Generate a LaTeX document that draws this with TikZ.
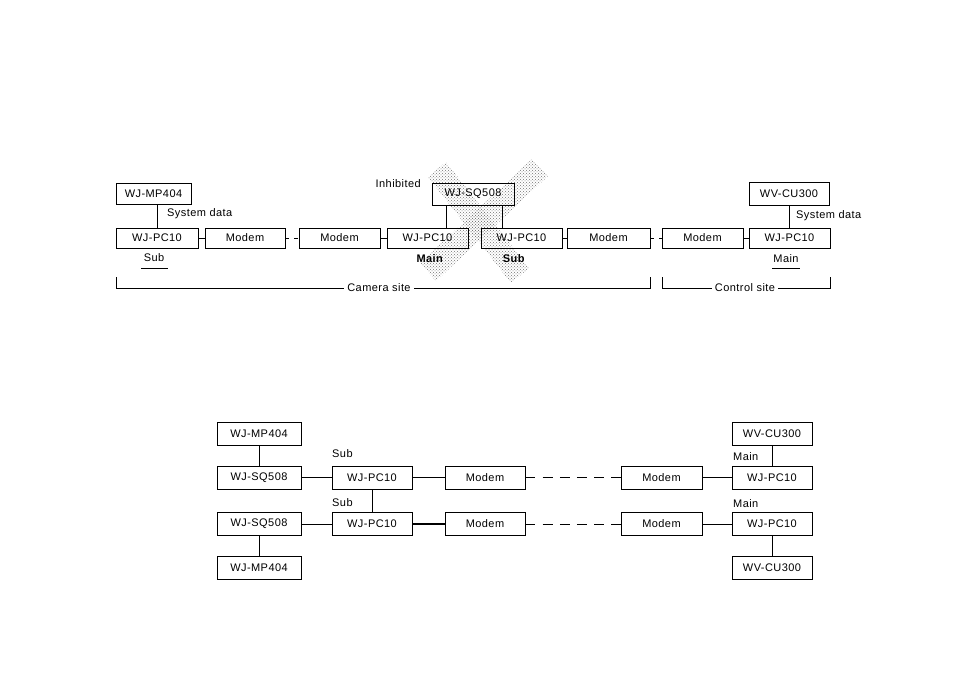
\documentclass[tikz,border=0pt]{standalone}
\usepackage{fontspec}
\setmainfont[LetterSpace=4]{Liberation Sans}
\usetikzlibrary{patterns}
\begin{document}
\begin{tikzpicture}[x=1pt,y=-1pt,
  box/.style={draw,line width=0.7pt,minimum height=20pt,inner sep=0pt,font=\fontsize{11}{13}\selectfont},
  lbl/.style={inner sep=0pt,font=\fontsize{11}{13}\selectfont},
  conn/.style={line width=0.7pt},
  thick conn/.style={line width=1.4pt},
  dconn/.style={line width=0.7pt,dash pattern=on 4pt off 5pt},
  ldconn/.style={line width=0.7pt,dash pattern=on 10pt off 7.2pt},
  uline/.style={line width=1.6pt},
  stip/.style={pattern=crosshatch dots,pattern color=gray!90!black}]
\useasboundingbox (0,0) rectangle (955,676);
% stippled "inhibited" cross
\fill[stip] (446,162) -- (428,177) -- (511,283) -- (529,268) -- cycle;
\fill[stip] (548,176) -- (532,159) -- (420,263) -- (436,281) -- cycle;
% ---------- top diagram ----------
\node[box,minimum width=75pt,minimum height=21pt] (mpA) at (153.5,193.5) {WJ-MP404};
\node[box,minimum width=82pt,minimum height=22pt] (sqA) at (473,194) {WJ-SQ508};
\node[box,minimum width=80pt,minimum height=23pt] (cuA) at (789,194) {WV-CU300};
\node[box,minimum width=82pt] (pcA) at (157,238) {WJ-PC10};
\node[box,minimum width=80pt] (modA) at (245,238) {Modem};
\node[box,minimum width=81pt] (modB) at (339.5,238) {Modem};
\node[box,minimum width=81pt] (pcB) at (427.5,238) {WJ-PC10};
\node[box,minimum width=81pt] (pcC) at (521.5,238) {WJ-PC10};
\node[box,minimum width=83pt] (modC) at (608.5,238) {Modem};
\node[box,minimum width=81pt] (modD) at (702.5,238) {Modem};
\node[box,minimum width=81pt] (pcD) at (789.5,238) {WJ-PC10};
\draw[conn] (mpA.south -| pcA.north) -- (pcA.north);
\draw[conn] (cuA.south) -- (cuA.south |- pcD.north);
\draw[conn] ([xshift=-27pt]sqA.south) -- ([xshift=-27pt]sqA.south |- pcB.north);
\draw[conn] ([xshift=29pt]sqA.south) -- ([xshift=29pt]sqA.south |- pcC.north);
\draw[conn] (pcA.east) -- (modA.west);
\draw[dconn] (modA.east) -- (modB.west);
\draw[conn] (modB.east) -- (pcB.west);
\draw[conn] (pcC.east) -- (modC.west);
\draw[dconn] (modC.east) -- (modD.west);
\draw[conn] (modD.east) -- (pcD.west);
\node[lbl,anchor=west] (sdA) at (167,214) {System data};
\node[lbl,anchor=west] (sdB) at (796,216) {System data};
\node[lbl,anchor=east] (inh) at (421,183.5) {Inhibited};
\node[lbl] (subA) at (154,258) {Sub};
\node[lbl] (mainB) at (430,258.5) {\textbf{Main}};
\node[lbl] (subC) at (514,258.5) {\textbf{Sub}};
\node[lbl] (mainD) at (786,259) {Main};
\draw[uline] (141,268.5) -- (168,268.5);
\draw[uline] (772,268.5) -- (800,268.5);
% site brackets
\coordinate (csL) at (116,277);
\coordinate (csR) at (650,277);
\coordinate (ctL) at (662,277);
\coordinate (ctR) at (830,277);
\draw[conn] (csL) -- (116,288) -- (650,288) -- (csR);
\draw[conn] (ctL) -- (662,288) -- (830,288) -- (ctR);
\node[lbl,fill=white,inner xsep=3pt,inner ysep=1pt] (cam) at (379,288) {Camera site};
\node[lbl,fill=white,inner xsep=3pt,inner ysep=1pt] (ctl) at (745,288) {Control site};
% ---------- bottom diagram ----------
\tikzset{bbox/.style={box,minimum height=23pt}}
\node[bbox,minimum width=84pt] (mpB) at (259,433.5) {WJ-MP404};
\node[bbox,minimum width=84pt] (sqB) at (259,477.5) {WJ-SQ508};
\node[bbox,minimum width=80pt] (pcE) at (372,477.5) {WJ-PC10};
\node[bbox,minimum width=80pt] (modE) at (485,477.5) {Modem};
\node[bbox,minimum width=81pt] (modF) at (661.5,477.5) {Modem};
\node[bbox,minimum width=80pt] (pcF) at (772,477.5) {WJ-PC10};
\node[bbox,minimum width=80pt] (cuB) at (772,433.5) {WV-CU300};
\node[bbox,minimum width=84pt] (sqC) at (259,524) {WJ-SQ508};
\node[bbox,minimum width=80pt] (pcG) at (372,524) {WJ-PC10};
\node[bbox,minimum width=80pt] (modG) at (485,524) {Modem};
\node[bbox,minimum width=81pt] (modH) at (661.5,524) {Modem};
\node[bbox,minimum width=80pt] (pcH) at (772,524) {WJ-PC10};
\node[bbox,minimum width=84pt] (mpC) at (259,567.5) {WJ-MP404};
\node[bbox,minimum width=80pt] (cuC) at (772,567.5) {WV-CU300};
\draw[conn] (mpB.south) -- (sqB.north);
\draw[thick conn] (sqB.east) -- (pcE.west);
\draw[conn] (pcE.east) -- (modE.west);
\draw[ldconn] (modE.east) -- (modF.west);
\draw[conn] (modF.east) -- (pcF.west);
\draw[conn] (cuB.south) -- (pcF.north);
\draw[conn] (pcE.south) -- (pcG.north);
\draw[conn] (sqC.east) -- (pcG.west);
\draw[thick conn] (pcG.east) -- (modG.west);
\draw[ldconn] (modG.east) -- (modH.west);
\draw[conn] (modH.east) -- (pcH.west);
\draw[conn] (pcH.south) -- (cuC.north);
\draw[conn] (sqC.south) -- (mpC.north);
\node[lbl,anchor=west] (subE) at (332,454) {Sub};
\node[lbl,anchor=west] (subG) at (332,503) {Sub};
\node[lbl,anchor=west] (mainF) at (733,457) {Main};
\node[lbl,anchor=west] (mainH) at (733,503.5) {Main};
\end{tikzpicture}
\end{document}
